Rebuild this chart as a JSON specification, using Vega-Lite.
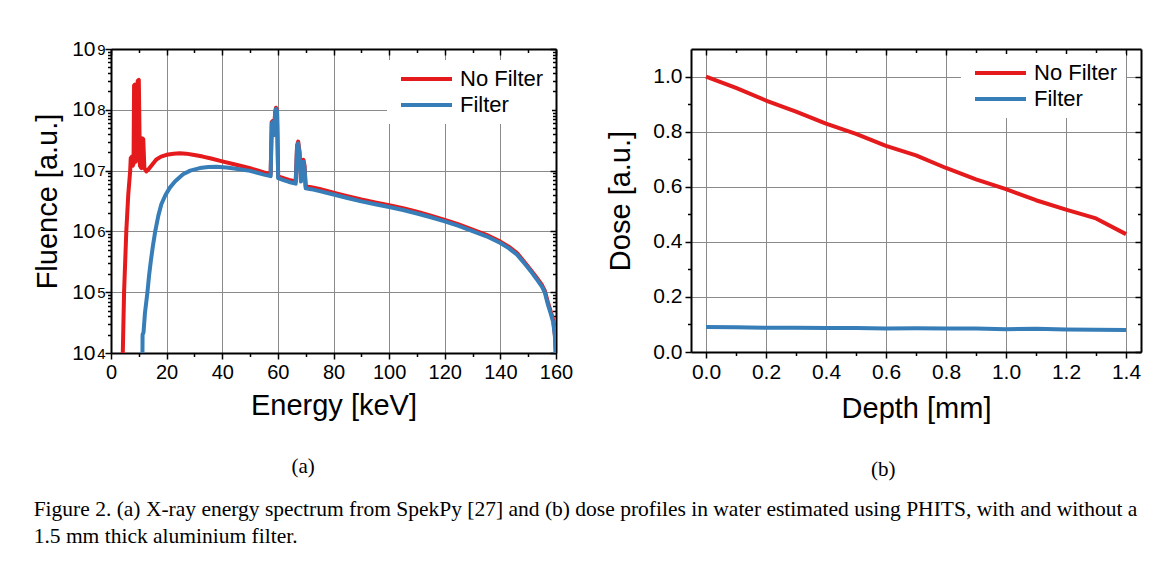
{
  "$schema": "https://vega.github.io/schema/vega-lite/v6.json",
  "background": "white",
  "padding": {"left": 33, "top": 38, "right": 5, "bottom": 5},
  "config": {
    "font": "Liberation Sans",
    "view": {"stroke": null},
    "axis": {
      "labelFont": "Liberation Sans", "labelFontSize": 20, "labelColor": "black",
      "titleFont": "Liberation Sans", "titleFontSize": 29, "titleFontWeight": "normal", "titleColor": "black",
      "domainColor": "black", "domainWidth": 2, "tickColor": "black", "tickWidth": 1.5,
      "gridColor": "#8a8a8a", "gridWidth": 1, "gridOpacity": 1,
      "labelFlush": false, "labelOverlap": false, "labelBound": false
    },
    "legend": {
      "orient": "none", "title": null, "fillColor": "white", "padding": 8,
      "labelFont": "Liberation Sans", "labelFontSize": 22, "labelColor": "black",
      "symbolType": "M-1,0H9.2", "symbolSize": 100, "symbolStrokeWidth": 4,
      "labelOffset": 43, "rowPadding": 4
    }
  },
  "title": {
    "text": ["Figure 2. (a) X-ray energy spectrum from SpekPy [27] and (b) dose profiles in water estimated using PHITS, with and without a", "1.5 mm thick aluminium filter."],
    "orient": "bottom", "anchor": "start", "font": "Liberation Serif", "fontSize": 21.5,
    "fontWeight": "normal", "lineHeight": 27, "offset": 19, "color": "black"
  },
  "datasets": {
    "spec": [
      {"s": "No Filter", "E": 4.2, "F": 8000},
      {"s": "No Filter", "E": 4.7, "F": 100000},
      {"s": "No Filter", "E": 5.5, "F": 1000000},
      {"s": "No Filter", "E": 6.2, "F": 4000000},
      {"s": "No Filter", "E": 6.9, "F": 10000000},
      {"s": "No Filter", "E": 7.1, "F": 16000000},
      {"s": "No Filter", "E": 7.5, "F": 17000000},
      {"s": "No Filter", "E": 7.8, "F": 12000000},
      {"s": "No Filter", "E": 8.1, "F": 13000000},
      {"s": "No Filter", "E": 8.3, "F": 250000000},
      {"s": "No Filter", "E": 8.6, "F": 260000000},
      {"s": "No Filter", "E": 8.9, "F": 14000000},
      {"s": "No Filter", "E": 9.3, "F": 18000000},
      {"s": "No Filter", "E": 9.6, "F": 300000000},
      {"s": "No Filter", "E": 10.0, "F": 310000000},
      {"s": "No Filter", "E": 10.4, "F": 12000000},
      {"s": "No Filter", "E": 10.9, "F": 11000000},
      {"s": "No Filter", "E": 11.2, "F": 34000000},
      {"s": "No Filter", "E": 11.6, "F": 33000000},
      {"s": "No Filter", "E": 12.0, "F": 11000000},
      {"s": "No Filter", "E": 12.7, "F": 9700000},
      {"s": "No Filter", "E": 13.5, "F": 10500000},
      {"s": "No Filter", "E": 14.5, "F": 12000000},
      {"s": "No Filter", "E": 16.3, "F": 15200000},
      {"s": "No Filter", "E": 18, "F": 17000000},
      {"s": "No Filter", "E": 20, "F": 18200000},
      {"s": "No Filter", "E": 22.5, "F": 19000000},
      {"s": "No Filter", "E": 24.7, "F": 19300000},
      {"s": "No Filter", "E": 27, "F": 19000000},
      {"s": "No Filter", "E": 30, "F": 18000000},
      {"s": "No Filter", "E": 33, "F": 17000000},
      {"s": "No Filter", "E": 36, "F": 15800000},
      {"s": "No Filter", "E": 40, "F": 14200000},
      {"s": "No Filter", "E": 45, "F": 12500000},
      {"s": "No Filter", "E": 50, "F": 11000000},
      {"s": "No Filter", "E": 55, "F": 9300000},
      {"s": "No Filter", "E": 57.4, "F": 8700000},
      {"s": "No Filter", "E": 57.8, "F": 63000000},
      {"s": "No Filter", "E": 58.2, "F": 66000000},
      {"s": "No Filter", "E": 58.6, "F": 40000000},
      {"s": "No Filter", "E": 59.0, "F": 90000000},
      {"s": "No Filter", "E": 59.3, "F": 108000000},
      {"s": "No Filter", "E": 59.7, "F": 100000000},
      {"s": "No Filter", "E": 60.1, "F": 8000000},
      {"s": "No Filter", "E": 62, "F": 7500000},
      {"s": "No Filter", "E": 64, "F": 7000000},
      {"s": "No Filter", "E": 66.4, "F": 6600000},
      {"s": "No Filter", "E": 66.9, "F": 26000000},
      {"s": "No Filter", "E": 67.3, "F": 30000000},
      {"s": "No Filter", "E": 67.8, "F": 20000000},
      {"s": "No Filter", "E": 68.3, "F": 7000000},
      {"s": "No Filter", "E": 68.8, "F": 13000000},
      {"s": "No Filter", "E": 69.2, "F": 15000000},
      {"s": "No Filter", "E": 69.6, "F": 12000000},
      {"s": "No Filter", "E": 70.0, "F": 5500000},
      {"s": "No Filter", "E": 72, "F": 5350000},
      {"s": "No Filter", "E": 75, "F": 5000000},
      {"s": "No Filter", "E": 80, "F": 4350000},
      {"s": "No Filter", "E": 85, "F": 3800000},
      {"s": "No Filter", "E": 90, "F": 3350000},
      {"s": "No Filter", "E": 95, "F": 3000000},
      {"s": "No Filter", "E": 100, "F": 2700000},
      {"s": "No Filter", "E": 105, "F": 2400000},
      {"s": "No Filter", "E": 110, "F": 2100000},
      {"s": "No Filter", "E": 115, "F": 1820000},
      {"s": "No Filter", "E": 120, "F": 1550000},
      {"s": "No Filter", "E": 125, "F": 1300000},
      {"s": "No Filter", "E": 130, "F": 1070000},
      {"s": "No Filter", "E": 135, "F": 880000},
      {"s": "No Filter", "E": 140, "F": 680000},
      {"s": "No Filter", "E": 143, "F": 560000},
      {"s": "No Filter", "E": 146, "F": 440000},
      {"s": "No Filter", "E": 149, "F": 300000},
      {"s": "No Filter", "E": 151, "F": 230000},
      {"s": "No Filter", "E": 153, "F": 175000},
      {"s": "No Filter", "E": 155, "F": 130000},
      {"s": "No Filter", "E": 156, "F": 105000},
      {"s": "No Filter", "E": 157, "F": 70000},
      {"s": "No Filter", "E": 158, "F": 50000},
      {"s": "No Filter", "E": 159, "F": 35000},
      {"s": "No Filter", "E": 159.6, "F": 20000},
      {"s": "No Filter", "E": 160, "F": 8000},
      {"s": "Filter", "E": 11.3, "F": 8000},
      {"s": "Filter", "E": 11.35, "F": 20000},
      {"s": "Filter", "E": 11.7, "F": 22000},
      {"s": "Filter", "E": 12.2, "F": 45000},
      {"s": "Filter", "E": 13.1, "F": 100000},
      {"s": "Filter", "E": 13.7, "F": 190000},
      {"s": "Filter", "E": 14.3, "F": 320000},
      {"s": "Filter", "E": 15.0, "F": 550000},
      {"s": "Filter", "E": 15.9, "F": 1000000},
      {"s": "Filter", "E": 17.0, "F": 1800000},
      {"s": "Filter", "E": 18.1, "F": 2800000},
      {"s": "Filter", "E": 19.5, "F": 3900000},
      {"s": "Filter", "E": 21.1, "F": 5200000},
      {"s": "Filter", "E": 23, "F": 6600000},
      {"s": "Filter", "E": 25.9, "F": 8700000},
      {"s": "Filter", "E": 28.5, "F": 10000000},
      {"s": "Filter", "E": 31.9, "F": 11000000},
      {"s": "Filter", "E": 35, "F": 11500000},
      {"s": "Filter", "E": 38, "F": 11600000},
      {"s": "Filter", "E": 41.5, "F": 11200000},
      {"s": "Filter", "E": 45, "F": 10700000},
      {"s": "Filter", "E": 50, "F": 9900000},
      {"s": "Filter", "E": 55, "F": 8600000},
      {"s": "Filter", "E": 57.4, "F": 8100000},
      {"s": "Filter", "E": 57.8, "F": 60000000},
      {"s": "Filter", "E": 58.2, "F": 63000000},
      {"s": "Filter", "E": 58.6, "F": 38000000},
      {"s": "Filter", "E": 59.0, "F": 86000000},
      {"s": "Filter", "E": 59.3, "F": 103000000},
      {"s": "Filter", "E": 59.7, "F": 96000000},
      {"s": "Filter", "E": 60.1, "F": 7500000},
      {"s": "Filter", "E": 62, "F": 7000000},
      {"s": "Filter", "E": 64, "F": 6500000},
      {"s": "Filter", "E": 66.4, "F": 6100000},
      {"s": "Filter", "E": 66.9, "F": 24500000},
      {"s": "Filter", "E": 67.3, "F": 28000000},
      {"s": "Filter", "E": 67.8, "F": 19000000},
      {"s": "Filter", "E": 68.3, "F": 6600000},
      {"s": "Filter", "E": 68.8, "F": 12000000},
      {"s": "Filter", "E": 69.2, "F": 14000000},
      {"s": "Filter", "E": 69.6, "F": 11000000},
      {"s": "Filter", "E": 70.0, "F": 5100000},
      {"s": "Filter", "E": 72, "F": 4950000},
      {"s": "Filter", "E": 75, "F": 4600000},
      {"s": "Filter", "E": 80, "F": 4050000},
      {"s": "Filter", "E": 85, "F": 3550000},
      {"s": "Filter", "E": 90, "F": 3120000},
      {"s": "Filter", "E": 95, "F": 2800000},
      {"s": "Filter", "E": 100, "F": 2520000},
      {"s": "Filter", "E": 105, "F": 2250000},
      {"s": "Filter", "E": 110, "F": 1970000},
      {"s": "Filter", "E": 115, "F": 1710000},
      {"s": "Filter", "E": 120, "F": 1460000},
      {"s": "Filter", "E": 125, "F": 1230000},
      {"s": "Filter", "E": 130, "F": 1010000},
      {"s": "Filter", "E": 135, "F": 830000},
      {"s": "Filter", "E": 140, "F": 645000},
      {"s": "Filter", "E": 143, "F": 530000},
      {"s": "Filter", "E": 146, "F": 415000},
      {"s": "Filter", "E": 149, "F": 285000},
      {"s": "Filter", "E": 151, "F": 220000},
      {"s": "Filter", "E": 153, "F": 165000},
      {"s": "Filter", "E": 155, "F": 122000},
      {"s": "Filter", "E": 156, "F": 98000},
      {"s": "Filter", "E": 157, "F": 65000},
      {"s": "Filter", "E": 158, "F": 46000},
      {"s": "Filter", "E": 159, "F": 32000},
      {"s": "Filter", "E": 159.6, "F": 19000},
      {"s": "Filter", "E": 160, "F": 8000}
    ],
    "dose": [
      {"s": "No Filter", "d": 0.0, "v": 1.0},
      {"s": "No Filter", "d": 0.1, "v": 0.959},
      {"s": "No Filter", "d": 0.2, "v": 0.913},
      {"s": "No Filter", "d": 0.3, "v": 0.873},
      {"s": "No Filter", "d": 0.4, "v": 0.829},
      {"s": "No Filter", "d": 0.5, "v": 0.792},
      {"s": "No Filter", "d": 0.6, "v": 0.748},
      {"s": "No Filter", "d": 0.7, "v": 0.714},
      {"s": "No Filter", "d": 0.8, "v": 0.668},
      {"s": "No Filter", "d": 0.9, "v": 0.627},
      {"s": "No Filter", "d": 1.0, "v": 0.591},
      {"s": "No Filter", "d": 1.1, "v": 0.551},
      {"s": "No Filter", "d": 1.2, "v": 0.517},
      {"s": "No Filter", "d": 1.3, "v": 0.485},
      {"s": "No Filter", "d": 1.4, "v": 0.428},
      {"s": "Filter", "d": 0.0, "v": 0.091},
      {"s": "Filter", "d": 0.1, "v": 0.090},
      {"s": "Filter", "d": 0.2, "v": 0.088},
      {"s": "Filter", "d": 0.3, "v": 0.088},
      {"s": "Filter", "d": 0.4, "v": 0.087},
      {"s": "Filter", "d": 0.5, "v": 0.087},
      {"s": "Filter", "d": 0.6, "v": 0.085},
      {"s": "Filter", "d": 0.7, "v": 0.086},
      {"s": "Filter", "d": 0.8, "v": 0.085},
      {"s": "Filter", "d": 0.9, "v": 0.085},
      {"s": "Filter", "d": 1.0, "v": 0.083},
      {"s": "Filter", "d": 1.1, "v": 0.084},
      {"s": "Filter", "d": 1.2, "v": 0.082},
      {"s": "Filter", "d": 1.3, "v": 0.081},
      {"s": "Filter", "d": 1.4, "v": 0.080}
    ]
  },
  "spacing": 33,
  "resolve": {"scale": {"color": "independent"}, "legend": {"color": "independent"}},
  "hconcat": [
    {
      "width": 445, "height": 304,
      "title": {"text": "(a)", "orient": "bottom", "anchor": "middle", "frame": "bounds", "font": "Liberation Serif", "fontSize": 21, "fontWeight": "normal", "color": "black", "offset": 36},
      "data": {"name": "spec"},
      "layer": [
        {
          "mark": {"type": "line", "strokeWidth": 4, "clip": true, "strokeJoin": "round"},
          "encoding": {
            "x": {"field": "E", "type": "quantitative", "scale": {"domain": [0, 160], "nice": false, "zero": false},
              "axis": {"orient": "bottom", "values": [0, 20, 40, 60, 80, 100, 120, 140, 160], "format": "d", "title": "Energy [keV]", "grid": true, "tickSize": 6, "labelPadding": 3, "titlePadding": 9}},
            "y": {"field": "F", "type": "quantitative", "scale": {"type": "log", "domain": [10000, 1000000000], "nice": false},
              "axis": {"orient": "left", "values": [10000, 100000, 1000000, 10000000, 100000000, 1000000000], "title": "Fluence [a.u.]", "grid": true, "tickSize": 6, "labelPadding": 10, "titlePadding": 9, "labelFontSize": 21,
                "labelExpr": "'10'"}},
            "color": {"field": "s", "type": "nominal", "scale": {"domain": ["No Filter", "Filter"], "range": ["#e41a1c", "#377eb8"]},
              "legend": {"legendX": 276, "legendY": 11}}
          }
        },
        {
          "mark": {"type": "point", "opacity": 0},
          "encoding": {
            "x": {"field": "E", "type": "quantitative", "axis": {"orient": "bottom", "values": [10, 30, 50, 70, 90, 110, 130, 150], "labels": false, "domain": false, "grid": false, "tickSize": 3.5, "title": null}},
            "y": {"field": "F", "type": "quantitative", "axis": {"orient": "left", "labels": false, "domain": false, "grid": false, "tickSize": 3.5, "title": null,
              "values": [20000, 30000, 40000, 50000, 60000, 70000, 80000, 90000, 200000, 300000, 400000, 500000, 600000, 700000, 800000, 900000, 2000000, 3000000, 4000000, 5000000, 6000000, 7000000, 8000000, 9000000, 20000000, 30000000, 40000000, 50000000, 60000000, 70000000, 80000000, 90000000, 200000000, 300000000, 400000000, 500000000, 600000000, 700000000, 800000000, 900000000]}}
          }
        },
        {
          "mark": {"type": "point", "opacity": 0},
          "encoding": {
            "x": {"field": "E", "type": "quantitative", "axis": {"orient": "top", "values": [0, 20, 40, 60, 80, 100, 120, 140, 160], "labels": false, "domain": true, "grid": false, "tickSize": -6, "title": null}},
            "y": {"field": "F", "type": "quantitative", "axis": {"orient": "right", "values": [10000, 100000, 1000000, 10000000, 100000000, 1000000000], "labels": false, "domain": true, "grid": false, "tickSize": -6, "title": null}}
          }
        },
        {
          "mark": {"type": "point", "opacity": 0},
          "encoding": {
            "x": {"field": "E", "type": "quantitative", "axis": {"orient": "top", "values": [10, 30, 50, 70, 90, 110, 130, 150], "labels": false, "domain": false, "grid": false, "tickSize": -3.5, "title": null}},
            "y": {"field": "F", "type": "quantitative", "axis": {"orient": "right", "labels": false, "domain": false, "grid": false, "tickSize": -3.5, "title": null,
              "values": [20000, 30000, 40000, 50000, 60000, 70000, 80000, 90000, 200000, 300000, 400000, 500000, 600000, 700000, 800000, 900000, 2000000, 3000000, 4000000, 5000000, 6000000, 7000000, 8000000, 9000000, 20000000, 30000000, 40000000, 50000000, 60000000, 70000000, 80000000, 90000000, 200000000, 300000000, 400000000, 500000000, 600000000, 700000000, 800000000, 900000000]}}
          }
        },
        {
          "mark": {"type": "point", "opacity": 0},
          "encoding": {
            "x": {"field": "E", "type": "quantitative", "axis": null},
            "y": {"field": "F", "type": "quantitative", "axis": {"orient": "left", "values": [10000, 100000, 1000000, 10000000, 100000000, 1000000000], "ticks": false, "tickSize": 0, "domain": false, "grid": false, "title": null,
              "labelPadding": 6, "labelFontSize": 15, "labelDy": -7,
              "labelExpr": "datum.value < 50000 ? '4' : datum.value < 500000 ? '5' : datum.value < 5000000 ? '6' : datum.value < 50000000 ? '7' : datum.value < 500000000 ? '8' : '9'"}}
          }
        }
      ],
      "resolve": {"axis": {"x": "independent", "y": "independent"}}
    },
    {
      "width": 450, "height": 303,
      "title": {"text": "(b)", "orient": "bottom", "anchor": "middle", "frame": "bounds", "font": "Liberation Serif", "fontSize": 21, "fontWeight": "normal", "color": "black", "offset": 36, "dx": 9},
      "data": {"name": "dose"},
      "layer": [
        {
          "mark": {"type": "line", "strokeWidth": 4, "clip": true, "strokeJoin": "round"},
          "encoding": {
            "x": {"field": "d", "type": "quantitative", "scale": {"domain": [-0.05, 1.45], "nice": false, "zero": false},
              "axis": {"orient": "bottom", "values": [0, 0.2, 0.4, 0.6, 0.8, 1.0, 1.2, 1.4], "format": ".1f", "title": "Depth [mm]", "grid": true, "tickSize": 6, "labelPadding": 3, "titlePadding": 12, "labelFontSize": 21}},
            "y": {"field": "v", "type": "quantitative", "scale": {"domain": [0, 1.1], "nice": false, "zero": false},
              "axis": {"orient": "left", "values": [0, 0.2, 0.4, 0.6, 0.8, 1.0], "format": ".1f", "title": "Dose [a.u.]", "grid": true, "tickSize": 6, "labelPadding": 3, "titlePadding": 17, "labelFontSize": 21}},
            "color": {"field": "s", "type": "nominal", "scale": {"domain": ["No Filter", "Filter"], "range": ["#e41a1c", "#377eb8"]},
              "legend": {"legendX": 270, "legendY": 5}}
          }
        },
        {
          "mark": {"type": "point", "opacity": 0},
          "encoding": {
            "x": {"field": "d", "type": "quantitative", "axis": {"orient": "bottom", "values": [0.1, 0.3, 0.5, 0.7, 0.9, 1.1, 1.3], "labels": false, "domain": false, "grid": false, "tickSize": 3.5, "title": null}},
            "y": {"field": "v", "type": "quantitative", "axis": {"orient": "left", "values": [0.1, 0.3, 0.5, 0.7, 0.9], "labels": false, "domain": false, "grid": false, "tickSize": 3.5, "title": null}}
          }
        },
        {
          "mark": {"type": "point", "opacity": 0},
          "encoding": {
            "x": {"field": "d", "type": "quantitative", "axis": {"orient": "top", "values": [0, 0.2, 0.4, 0.6, 0.8, 1.0, 1.2, 1.4], "labels": false, "domain": true, "grid": false, "tickSize": -6, "title": null}},
            "y": {"field": "v", "type": "quantitative", "axis": {"orient": "right", "values": [0, 0.2, 0.4, 0.6, 0.8, 1.0], "labels": false, "domain": true, "grid": false, "tickSize": -6, "title": null}}
          }
        },
        {
          "mark": {"type": "point", "opacity": 0},
          "encoding": {
            "x": {"field": "d", "type": "quantitative", "axis": {"orient": "top", "values": [0.1, 0.3, 0.5, 0.7, 0.9, 1.1, 1.3], "labels": false, "domain": false, "grid": false, "tickSize": -3.5, "title": null}},
            "y": {"field": "v", "type": "quantitative", "axis": {"orient": "right", "values": [0.1, 0.3, 0.5, 0.7, 0.9], "labels": false, "domain": false, "grid": false, "tickSize": -3.5, "title": null}}
          }
        }
      ],
      "resolve": {"axis": {"x": "independent", "y": "independent"}}
    }
  ]
}
